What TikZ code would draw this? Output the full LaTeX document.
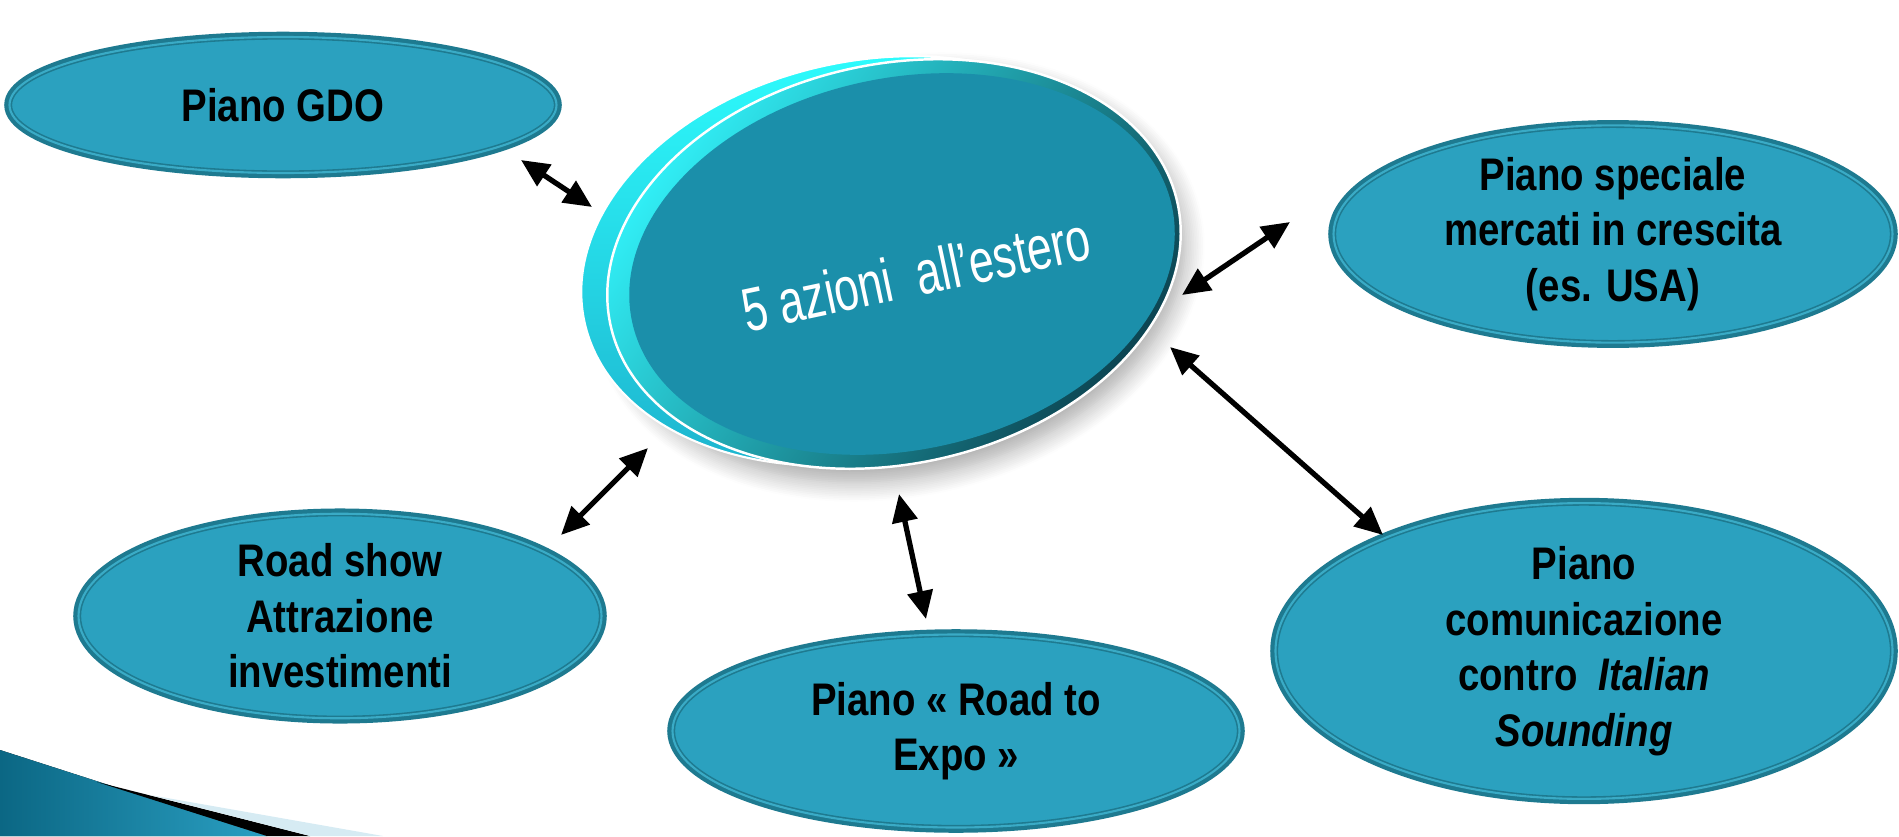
\documentclass[tikz,border=0pt]{standalone}
\usepackage{fontspec}
\usepackage{xcolor}
\usepackage{tikz}
\usetikzlibrary{shapes.geometric,arrows.meta,shadows.blur}
\setmainfont{Liberation Sans}[FakeStretch=0.84]
\newfontfamily\hubfont{Liberation Sans}[FakeStretch=0.72]

\definecolor{planfill}{HTML}{2BA1BF}
\definecolor{planring}{HTML}{1E7A90}
\definecolor{plangap}{HTML}{3AABC6}
\definecolor{hubface}{HTML}{1B8FAA}
\definecolor{hublight}{HTML}{33F8FF}
\definecolor{hubdark}{HTML}{0A3A48}
\definecolor{hubcyan}{HTML}{2EFFFF}
\definecolor{hubcyanlo}{HTML}{1CB0CC}
\definecolor{cornerdark}{HTML}{0B6784}
\definecolor{cornerlight}{HTML}{2A9FC2}
\definecolor{cornerpale}{HTML}{D6EBF3}

\begin{document}
\begin{tikzpicture}[
    plan/.style={ellipse, inner sep=0pt, fill=planfill,
      preaction={draw=planring, line width=3pt},
      draw=planring, double=plangap, line width=0.45pt, double distance=0.6pt,
      align=center, font=\fontsize{13}{15.8}\selectfont\bfseries},
    hubgeom/.style={ellipse, rotate=12, inner sep=0pt,
      minimum width=5.8cm, minimum height=4cm},
    hubshade/.style={hubgeom, blur shadow={shadow xshift=0.04cm,
      shadow yshift=-0.13cm, shadow blur radius=0.2cm, shadow blur steps=12,
      shadow opacity=35}},
    hubback/.style={hubgeom, draw=white, line width=0.6pt,
      top color=hubcyan, bottom color=hubcyanlo},
    hubrim/.style={hubgeom, draw=white, line width=0.7pt,
      top color=hublight, bottom color=hubdark, shading angle=55},
    hubtop/.style={ellipse, rotate=12, inner sep=0pt, fill=hubface,
      minimum width=5.52cm, minimum height=3.72cm},
    hubtext/.style={rotate=12, text=white, font=\hubfont\fontsize{17.5}{20}\selectfont},
    link/.style={{Triangle[length=0.28cm,width=0.25cm]}-{Triangle[length=0.28cm,width=0.25cm]},
      line width=1.5pt}
  ]
  \useasboundingbox (0,0) rectangle (18.99,8.36);

  % corner of the slide
  \fill[left color=cornerdark, right color=cornerlight]
    (0,0.86) -- (2.67,0) -- (0,0) -- cycle;
  \fill[black] (0.97,0.54) -- (3.10,0) -- (2.67,0) -- cycle;
  \fill[cornerpale] (1.50,0.41) -- (3.83,0) -- (3.10,0) -- cycle;

  % centre
  \node[hubshade] (shade) at (8.94,5.72) {};
  \node[hubback] (back) at (8.68,5.75) {};
  \node[hubrim] (rim) at (8.94,5.72) {};
  \node[hubtop] (hub) at (9.02,5.72) {};
  \node[hubtext] (hubt) at (9.16,5.62) {5 azioni\ \ all’estero};

  % actions
  \node[plan, minimum width=5.47cm, minimum height=1.36cm] (gdo) at (2.83,7.31) {Piano GDO};
  \node[plan, minimum width=5.59cm, minimum height=2.02cm] (spec) at (16.13,6.02)
    {Piano speciale\\mercati in crescita\\(es. USA)};
  \node[plan, minimum width=5.23cm, minimum height=1.96cm] (road) at (3.40,2.20)
    {Road show\\Attrazione\\investimenti};
  \node[plan, minimum width=5.67cm, minimum height=1.93cm] (expo) at (9.56,1.05)
    {Piano « Road to\\Expo »};
  \node[plan, minimum width=6.17cm, minimum height=2.54cm] (comm) at (15.84,1.85)
    {Piano\\comunicazione\\contro\ \ \textit{Italian}\\\textit{Sounding}};

  % arrow ends
  \coordinate (gdo-e) at ([shift={(2.38,-0.55)}]gdo.center);
  \coordinate (hub-gdo) at ([shift={(-3.10,0.57)}]hub.center);
  \coordinate (spec-e) at ([shift={(-3.23,0.12)}]spec.center);
  \coordinate (hub-spec) at ([shift={(2.80,-0.31)}]hub.center);
  \coordinate (hub-comm) at ([shift={(2.68,-0.83)}]hub.center);
  \coordinate (comm-e) at ([shift={(-2.01,1.16)}]comm.center);
  \coordinate (hub-road) at ([shift={(-2.54,-1.84)}]hub.center);
  \coordinate (road-e) at ([shift={(2.21,0.81)}]road.center);
  \coordinate (hub-expo) at ([shift={(-0.03,-2.30)}]hub.center);
  \coordinate (expo-e) at ([shift={(-0.30,1.12)}]expo.center);

  \draw[link] (gdo-e) -- (hub-gdo);
  \draw[link] (spec-e) -- (hub-spec);
  \draw[link] (hub-comm) -- (comm-e);
  \draw[link] (hub-road) -- (road-e);
  \draw[link] (hub-expo) -- (expo-e);
\end{tikzpicture}
\end{document}
